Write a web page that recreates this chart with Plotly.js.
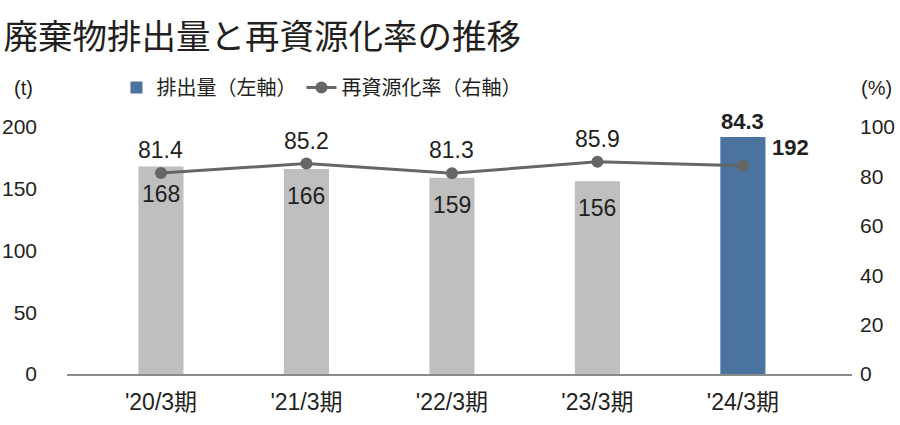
<!DOCTYPE html>
<html><head><meta charset="utf-8">
<script src="https://cdn.plot.ly/plotly-3.0.1.min.js"></script>
<style>body{margin:0;}#c{width:900px;height:425px;}</style>
</head><body><div id="c"></div>
<script>
const categories = ["'20/3期", "'21/3期", "'22/3期", "'23/3期", "'24/3期"];
const emissions = [168, 166, 159, 156, 192];
const recycleRate = [81.4, 85.2, 81.3, 85.9, 84.3];
const leftTicks = [0, 50, 100, 150, 200];
const rightTicks = [0, 20, 40, 60, 80, 100];

const FONT = "Liberation Sans, Arial, Noto Sans CJK JP, sans-serif";
const JFONT = "Noto Sans CJK JP, sans-serif";
const TXT = "#231f20";
const last = categories.length - 1;

const traces = [
  {type: 'bar', name: 'past', showlegend: false, x: categories.slice(0, last), y: emissions.slice(0, last),
   marker: {color: '#bfbfbf'}, width: 0.31, yaxis: 'y'},
  {type: 'bar', name: '排出量（左軸）', x: categories.slice(last), y: emissions.slice(last),
   marker: {color: '#4a73a0'}, width: 0.31, yaxis: 'y'},
  {type: 'scatter', mode: 'lines+markers', name: '再資源化率（右軸）', x: categories, y: recycleRate,
   yaxis: 'y2', line: {color: '#666666', width: 3}, marker: {color: '#666666', size: 12}}
];

const annotations = [];
categories.forEach((c, i) => {
  if (i < last) {
    annotations.push({x: c, y: recycleRate[i], xref: 'x', yref: 'y2', text: recycleRate[i].toFixed(1),
      showarrow: false, yshift: 23, font: {family: FONT, size: 23, color: TXT}});
    annotations.push({x: c, y: emissions[i], xref: 'x', yref: 'y', text: String(emissions[i]),
      showarrow: false, yshift: -27, font: {family: FONT, size: 23, color: TXT}});
  } else {
    annotations.push({x: c, y: emissions[i], xref: 'x', yref: 'y', text: '<b>' + recycleRate[i].toFixed(1) + '</b>',
      showarrow: false, yshift: 15, font: {family: FONT, size: 22, color: TXT}});
    annotations.push({x: c, y: recycleRate[i], xref: 'x', yref: 'y2', text: '<b>' + emissions[i] + '</b>',
      showarrow: false, xshift: 48, yshift: 18, font: {family: FONT, size: 22, color: TXT}});
  }
});
annotations.push({text: '(t)', xref: 'paper', yref: 'paper', x: -0.055, y: 1.158, xanchor: 'center', yanchor: 'middle',
  showarrow: false, font: {family: FONT, size: 20, color: TXT}});
annotations.push({text: '(%)', xref: 'paper', yref: 'paper', x: 1.031, y: 1.158, xanchor: 'center', yanchor: 'middle',
  showarrow: false, font: {family: FONT, size: 20, color: TXT}});

const layout = {
  width: 900, height: 425,
  margin: {l: 67, r: 48, t: 127, b: 51},
  paper_bgcolor: '#ffffff', plot_bgcolor: '#ffffff',
  font: {family: FONT, color: TXT, size: 20},
  barmode: 'overlay',
  title: {text: '廃棄物排出量と再資源化率の推移', x: 0.004, xanchor: 'left', y: 0.913, yanchor: 'middle',
    font: {family: JFONT, size: 34.5, color: TXT}},
  showlegend: true,
  legend: {orientation: 'h', x: 0.063, y: 1.16, xanchor: 'left', yanchor: 'middle',
    font: {family: JFONT, size: 20, color: TXT}, itemwidth: 30, traceorder: 'normal'},
  xaxis: {type: 'category', range: [-0.646, 4.75], showgrid: false, zeroline: false,
    showline: true, linecolor: '#8a8a8a', linewidth: 2, ticks: '', ticklabelstandoff: 6,
    tickfont: {family: FONT, size: 23, color: TXT}},
  yaxis: {range: [0, 200], tickvals: leftTicks, showgrid: false, zeroline: false, showline: false,
    ticks: '', ticklabelstandoff: 29, tickfont: {family: FONT, size: 21, color: TXT}},
  yaxis2: {range: [0, 100], tickvals: rightTicks, overlaying: 'y', side: 'right', showgrid: false,
    zeroline: false, showline: false, ticks: '', ticklabelstandoff: 7, tickfont: {family: FONT, size: 21, color: TXT}},
  annotations: annotations
};

Plotly.newPlot('c', traces, layout, {displayModeBar: false, staticPlot: true});
</script></body></html>
